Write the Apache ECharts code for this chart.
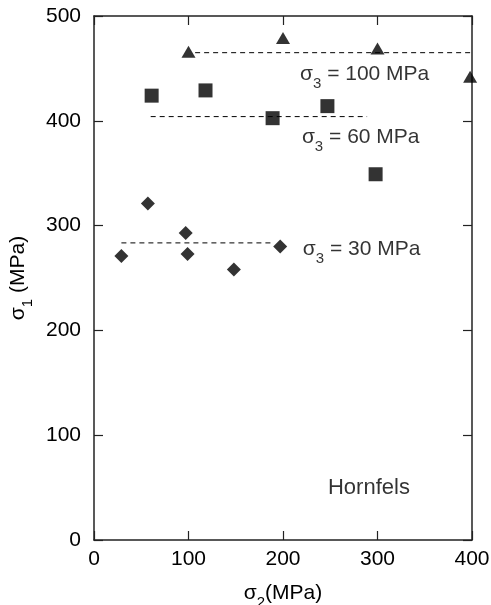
<!DOCTYPE html>
<html>
<head>
<meta charset="utf-8">
<script src="https://cdn.jsdelivr.net/npm/echarts@6/dist/echarts.min.js"></script>
<style>
  html, body { margin: 0; padding: 0; background: #fff; }
  #chart { width: 491px; height: 605px; }
</style>
</head>
<body>
<div id="chart"></div>
<script>
// Axis ticks (MPa)
const xTicks = [0, 100, 200, 300, 400];
const yTicks = [0, 100, 200, 300, 400, 500];

// Peak strength sigma1 vs intermediate stress sigma2, grouped by sigma3
const sigma2At100 = [100, 200, 300, 398];
const sigma1At100 = [466, 479, 469, 442];

const sigma2At60 = [61, 118, 189, 247, 298];
const sigma1At60 = [424, 429, 402.5, 414, 349];

const sigma2At30 = [29, 57, 97, 99, 148, 197];
const sigma1At30 = [271, 321, 293, 273, 258, 280];

// Dashed reference levels for each sigma3 group
const sigma3Values = ['100', '60', '30'];
const levelSigma1 = [465, 404, 283.5];
const levelStart = [107, 60, 29];
const levelEnd = [400, 289, 188];

// Where each sigma3 caption sits (data coordinates)
const captionX = [218, 220, 221];
const captionY = [444.6, 384, 277.8];

const rockName = 'Hornfels';
const rockNameAt = [247.6, 49.5];

const FONT = "'Liberation Sans', Arial, Helvetica, sans-serif";
const INK = '#000';
const FS = 21;

function pairs(xs, ys) { return xs.map((x, i) => [x, ys[i]]); }

const subRich = {
  m: { fontSize: FS, fontFamily: FONT, color: INK, lineHeight: 34, verticalAlign: 'middle' },
  s: { fontSize: 15, fontFamily: FONT, color: INK, lineHeight: 34, verticalAlign: 'bottom' }
};

const axisLineStyle = { show: true, onZero: false, lineStyle: { color: '#222', width: 1.5 } };
const tickStyle = { show: true, inside: true, length: 9, lineStyle: { color: '#222', width: 1.2 } };

const series = [];

// dashed level lines
levelSigma1.forEach((v, i) => {
  series.push({
    type: 'line',
    xAxisIndex: 0, yAxisIndex: 0,
    data: [[levelStart[i], v], [levelEnd[i], v]],
    symbol: 'none',
    silent: true,
    lineStyle: { color: '#000', width: 1, type: [5, 4] },
    z: 2
  });
});

series.push({
  type: 'scatter', symbol: 'triangle', symbolSize: [14, 12],
  data: pairs(sigma2At100, sigma1At100),
  itemStyle: { color: '#000' }, clip: false, z: 5
});
series.push({
  type: 'scatter', symbol: 'rect', symbolSize: 14,
  data: pairs(sigma2At60, sigma1At60),
  itemStyle: { color: '#000' }, clip: false, z: 5
});
series.push({
  type: 'scatter', symbol: 'diamond', symbolSize: [14, 14],
  data: pairs(sigma2At30, sigma1At30),
  itemStyle: { color: '#000' }, clip: false, z: 5
});

// sigma3 captions
series.push({
  type: 'scatter', symbolSize: 0, silent: true, clip: false, z: 6,
  data: captionX.map((x, i) => ({ value: [x, captionY[i]], name: sigma3Values[i] })),
  label: {
    show: true, position: [0, 0], align: 'left', verticalAlign: 'middle',
    formatter: p => '{m|σ}{s|3}{m| = ' + p.name + ' MPa}',
    rich: subRich
  }
});

// rock name
series.push({
  type: 'scatter', symbolSize: 0, silent: true, clip: false, z: 6,
  data: [{ value: rockNameAt, name: rockName }],
  label: {
    show: true, position: [0, 0], align: 'left', verticalAlign: 'middle',
    formatter: p => p.name,
    fontSize: 22, fontFamily: FONT, color: INK
  }
});

const chart = echarts.init(document.getElementById('chart'), null, { renderer: 'canvas' });
chart.setOption({
  animation: false,
  backgroundColor: '#fff',
  grid: { left: 94, right: 19, top: 16, bottom: 65, containLabel: false, outerBoundsMode: 'none' },
  xAxis: [
    {
      type: 'value', position: 'bottom',
      min: xTicks[0], max: xTicks[xTicks.length - 1], interval: xTicks[1] - xTicks[0],
      name: '{m|σ}{s|2}{m|(MPa)}', nameLocation: 'middle', nameGap: 36,
      nameTextStyle: { rich: subRich },
      axisLine: axisLineStyle, axisTick: tickStyle, splitLine: { show: false },
      axisLabel: { fontSize: FS, fontFamily: FONT, color: INK, margin: 9 }
    },
    {
      type: 'value', position: 'top',
      min: xTicks[0], max: xTicks[xTicks.length - 1], interval: xTicks[1] - xTicks[0],
      axisLine: axisLineStyle, axisTick: tickStyle, splitLine: { show: false },
      axisLabel: { show: false }
    }
  ],
  yAxis: [
    {
      type: 'value', position: 'left',
      min: yTicks[0], max: yTicks[yTicks.length - 1], interval: yTicks[1] - yTicks[0],
      name: '{m|σ}{s|1}{m| (MPa)}', nameLocation: 'middle', nameGap: 59, nameRotate: 90,
      nameTextStyle: { rich: subRich },
      axisLine: axisLineStyle, axisTick: tickStyle, splitLine: { show: false },
      axisLabel: { fontSize: FS, fontFamily: FONT, color: INK, margin: 13 }
    },
    {
      type: 'value', position: 'right',
      min: yTicks[0], max: yTicks[yTicks.length - 1], interval: yTicks[1] - yTicks[0],
      axisLine: axisLineStyle, axisTick: tickStyle, splitLine: { show: false },
      axisLabel: { show: false }
    }
  ],
  series: series
});
</script>
</body>
</html>
